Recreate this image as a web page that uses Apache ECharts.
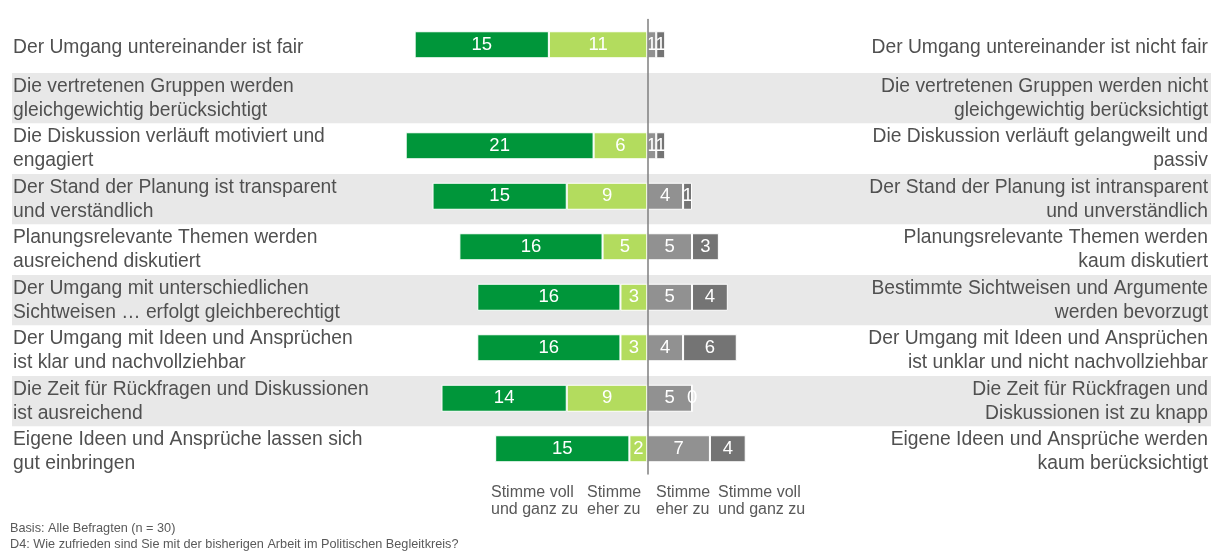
<!DOCTYPE html>
<html>
<head>
<meta charset="utf-8">
<script src="https://cdn.jsdelivr.net/npm/echarts@6/dist/echarts.min.js"></script>
<style>
  html, body { margin: 0; padding: 0; background: #fff; }
  #chart { width: 1212px; height: 556px; }
</style>
</head>
<body>
<div id="chart"></div>
<script>
// Aussagen links (positiv) und rechts (negativ), von oben nach unten
var leftLabels = [
  'Der Umgang untereinander ist fair',
  'Die vertretenen Gruppen werden\ngleichgewichtig berücksichtigt',
  'Die Diskussion verläuft motiviert und\nengagiert',
  'Der Stand der Planung ist transparent\nund verständlich',
  'Planungsrelevante Themen werden\nausreichend diskutiert',
  'Der Umgang mit unterschiedlichen\nSichtweisen … erfolgt gleichberechtigt',
  'Der Umgang mit Ideen und Ansprüchen\nist klar und nachvollziehbar',
  'Die Zeit für Rückfragen und Diskussionen\nist ausreichend',
  'Eigene Ideen und Ansprüche lassen sich\ngut einbringen'
];
var rightLabels = [
  'Der Umgang untereinander ist nicht fair',
  'Die vertretenen Gruppen werden nicht\ngleichgewichtig berücksichtigt',
  'Die Diskussion verläuft gelangweilt und\npassiv',
  'Der Stand der Planung ist intransparent\nund unverständlich',
  'Planungsrelevante Themen werden\nkaum diskutiert',
  'Bestimmte Sichtweisen und Argumente\nwerden bevorzugt',
  'Der Umgang mit Ideen und Ansprüchen\nist unklar und nicht nachvollziehbar',
  'Die Zeit für Rückfragen und\nDiskussionen ist zu knapp',
  'Eigene Ideen und Ansprüche werden\nkaum berücksichtigt'
];

// Antworthäufigkeiten (n = 30); '-' = keine Angabe
var leftFull  = [15, '-', 21, 15, 16, 16, 16, 14, 15];
var leftRather = [11, '-', 6, 9, 5, 3, 3, 9, 2];
var rightRather = [1, '-', 1, 4, 5, 5, 4, 5, 7];
var rightFull  = [1, '-', 1, 1, 3, 4, 6, 0, 4];

var answerLabels = [
  'Stimme voll\nund ganz zu',
  'Stimme\neher zu',
  'Stimme\neher zu',
  'Stimme voll\nund ganz zu'
];
var footnotes = [
  'Basis: Alle Befragten (n = 30)',
  'D4: Wie zufrieden sind Sie mit der bisherigen Arbeit im Politischen Begleitkreis?'
];

(function () {
  'use strict';

  var font = '"Liberation Sans", Arial, sans-serif';
  var ink = '#505050';
  var colors = ['#00963a', '#b3dc5e', '#919191', '#747474'];

  function neg(arr) {
    return arr.map(function (v) { return v === '-' ? '-' : -v; });
  }

  // Balken liegen im zweiten Grid (leicht nach oben versetzt)
  function barSeries(name, data, color) {
    return {
      name: name,
      type: 'bar',
      stack: 'total',
      xAxisIndex: 1,
      yAxisIndex: 3,
      barWidth: 27,
      data: data,
      itemStyle: { color: color, borderColor: '#fff', borderWidth: 1 },
      label: {
        show: true,
        position: 'inside',
        color: '#fff',
        fontFamily: font,
        fontSize: 18.5,
        formatter: function (p) { return Math.abs(p.value); }
      },
      emphasis: { disabled: true }
    };
  }

  var chart = echarts.init(document.getElementById('chart'), null, { renderer: 'canvas' });

  var answerX = [491, 587, 656, 718];
  var graphics = answerLabels.map(function (t, i) {
    return {
      type: 'text',
      left: answerX[i],
      top: 484,
      style: { text: t, font: '16px ' + font, fill: '#595959', lineHeight: 17, align: 'left' }
    };
  });
  footnotes.forEach(function (t, i) {
    graphics.push({
      type: 'text',
      left: 10,
      top: 522 + i * 16,
      style: { text: t, font: '12.7px ' + font, fill: '#595959' }
    });
  });

  var labelStyle = {
    inside: true,
    color: ink,
    fontFamily: font,
    fontSize: 19.3,
    lineHeight: 24
  };

  chart.setOption({
    animation: false,
    grid: [
      { left: 12, right: 1, top: 22.5, bottom: 79 },
      { left: 12, right: 1, top: 19.5, bottom: 82 }
    ],
    xAxis: [
      { type: 'value', gridIndex: 0, min: -71, max: 63, show: false },
      { type: 'value', gridIndex: 1, min: -71, max: 63, show: false }
    ],
    yAxis: [
      {
        type: 'category',
        gridIndex: 0,
        data: leftLabels,
        inverse: true,
        position: 'left',
        axisLine: { show: false },
        axisTick: { show: false },
        splitArea: { show: true, areaStyle: { color: ['#ffffff', '#e8e8e8'] } },
        axisLabel: Object.assign({ margin: 1 }, labelStyle)
      },
      {
        type: 'category',
        gridIndex: 0,
        data: rightLabels,
        inverse: true,
        position: 'right',
        axisLine: { show: false },
        axisTick: { show: false },
        axisLabel: Object.assign({ margin: 3, align: 'right' }, labelStyle)
      },
      {
        // Mittellinie
        type: 'category',
        gridIndex: 1,
        data: leftLabels,
        inverse: true,
        z: 5,
        axisLine: { onZero: true, lineStyle: { color: '#7f7f7f', width: 1.5 } },
        axisTick: { show: false },
        axisLabel: { show: false }
      },
      {
        type: 'category',
        gridIndex: 1,
        data: leftLabels,
        inverse: true,
        show: false
      }
    ],
    graphic: graphics,
    series: [
      barSeries('Stimme eher zu (links)', neg(leftRather), colors[1]),
      barSeries('Stimme voll und ganz zu (links)', neg(leftFull), colors[0]),
      barSeries('Stimme eher zu (rechts)', rightRather, colors[2]),
      barSeries('Stimme voll und ganz zu (rechts)', rightFull, colors[3])
    ]
  });

  window.addEventListener('resize', function () { chart.resize(); });
})();
</script>
</body>
</html>
